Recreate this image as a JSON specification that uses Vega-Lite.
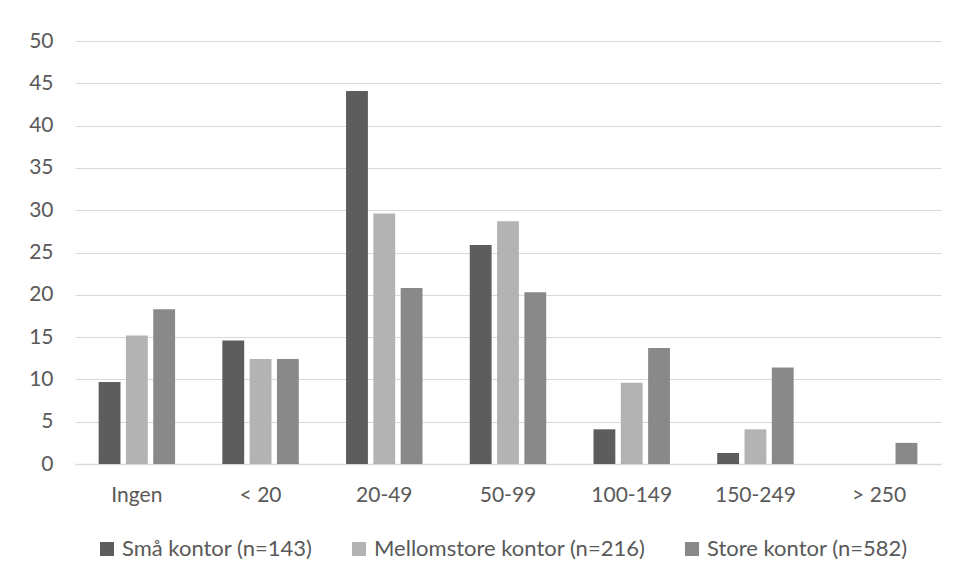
{
  "$schema": "https://vega.github.io/schema/vega-lite/v6.json",
  "width": 866,
  "height": 423,
  "autosize": {"type": "none"},
  "padding": {"left": 75, "top": 41, "right": 17, "bottom": 116},
  "background": "#ffffff",
  "config": {
    "view": {"stroke": null},
    "font": "Lato",
    "axis": {"labelFont": "Lato", "labelColor": "#595959", "labelFontSize": 21},
    "legend": {"labelFont": "Lato", "labelColor": "#595959", "labelFontSize": 22}
  },
  "data": {
    "values": [
      {"kategori": "Ingen", "kontor": "Små kontor (n=143)", "andel": 9.7},
      {"kategori": "Ingen", "kontor": "Mellomstore kontor (n=216)", "andel": 15.2},
      {"kategori": "Ingen", "kontor": "Store kontor (n=582)", "andel": 18.3},
      {"kategori": "< 20", "kontor": "Små kontor (n=143)", "andel": 14.6},
      {"kategori": "< 20", "kontor": "Mellomstore kontor (n=216)", "andel": 12.4},
      {"kategori": "< 20", "kontor": "Store kontor (n=582)", "andel": 12.4},
      {"kategori": "20-49", "kontor": "Små kontor (n=143)", "andel": 44.1},
      {"kategori": "20-49", "kontor": "Mellomstore kontor (n=216)", "andel": 29.6},
      {"kategori": "20-49", "kontor": "Store kontor (n=582)", "andel": 20.8},
      {"kategori": "50-99", "kontor": "Små kontor (n=143)", "andel": 25.9},
      {"kategori": "50-99", "kontor": "Mellomstore kontor (n=216)", "andel": 28.7},
      {"kategori": "50-99", "kontor": "Store kontor (n=582)", "andel": 20.3},
      {"kategori": "100-149", "kontor": "Små kontor (n=143)", "andel": 4.1},
      {"kategori": "100-149", "kontor": "Mellomstore kontor (n=216)", "andel": 9.6},
      {"kategori": "100-149", "kontor": "Store kontor (n=582)", "andel": 13.7},
      {"kategori": "150-249", "kontor": "Små kontor (n=143)", "andel": 1.3},
      {"kategori": "150-249", "kontor": "Mellomstore kontor (n=216)", "andel": 4.1},
      {"kategori": "150-249", "kontor": "Store kontor (n=582)", "andel": 11.4},
      {"kategori": "> 250", "kontor": "Små kontor (n=143)", "andel": 0},
      {"kategori": "> 250", "kontor": "Mellomstore kontor (n=216)", "andel": 0},
      {"kategori": "> 250", "kontor": "Store kontor (n=582)", "andel": 2.5}
    ]
  },
  "mark": {"type": "bar"},
  "encoding": {
    "x": {
      "field": "kategori",
      "type": "nominal",
      "sort": ["Ingen", "< 20", "20-49", "50-99", "100-149", "150-249", "> 250"],
      "scale": {"paddingInner": 0.382, "paddingOuter": 0.191},
      "axis": {
        "title": null,
        "labelAngle": 0,
        "ticks": false,
        "labelPadding": 20,
        "domainColor": "#d9d9d9",
        "domainWidth": 1.5
      }
    },
    "xOffset": {
      "field": "kontor",
      "type": "nominal",
      "sort": ["Små kontor (n=143)", "Mellomstore kontor (n=216)", "Store kontor (n=582)"],
      "scale": {"paddingInner": 0.2, "paddingOuter": 0}
    },
    "y": {
      "field": "andel",
      "type": "quantitative",
      "scale": {"domain": [0, 50], "nice": false},
      "axis": {
        "title": null,
        "values": [0, 5, 10, 15, 20, 25, 30, 35, 40, 45, 50],
        "domain": false,
        "ticks": false,
        "labelPadding": 22,
        "gridColor": "#d9d9d9",
        "gridWidth": 1.2
      }
    },
    "color": {
      "field": "kontor",
      "type": "nominal",
      "sort": ["Små kontor (n=143)", "Mellomstore kontor (n=216)", "Store kontor (n=582)"],
      "scale": {"range": ["#5d5d5d", "#b3b3b3", "#898989"]},
      "legend": {
        "title": null,
        "orient": "none",
        "direction": "horizontal",
        "legendX": 21,
        "legendY": 497,
        "symbolType": "square",
        "symbolSize": 196,
        "symbolStrokeWidth": 0,
        "labelOffset": 4,
        "columnPadding": 35,
        "labelLimit": 400
      }
    }
  }
}
